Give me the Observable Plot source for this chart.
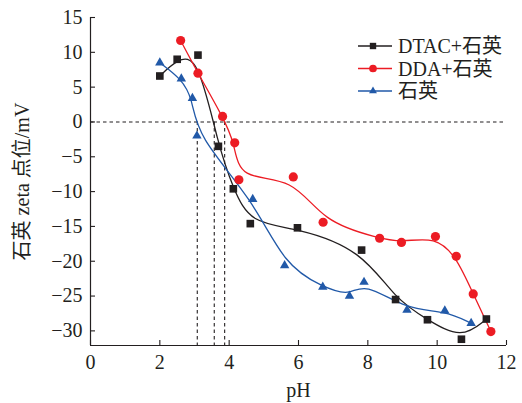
<!DOCTYPE html>
<html><head><meta charset="utf-8">
<script src="https://cdn.jsdelivr.net/npm/d3@7"></script>
<script src="https://cdn.jsdelivr.net/npm/@observablehq/plot@0.6"></script>
<style>body{margin:0;background:#fff}#chart{width:522px;height:403px}</style>
</head><body><div id="chart"></div>
<script>
const seriesNames = ["DTAC+石英", "DDA+石英", "石英"];
const seriesColors = ["#231f20", "#ec1c24", "#2159a8"];
const seriesSymbols = ["square", "circle", "triangle"];

const dtacPH   = [2.0, 2.5, 3.1, 3.69, 4.12, 4.61, 5.97, 7.82, 8.8, 9.72, 10.7, 11.42];
const dtacZeta = [6.6, 9.0, 9.6, -3.5, -9.6, -14.6, -15.2, -18.4, -25.5, -28.4, -31.2, -28.3];

const ddaPH    = [2.6, 3.1, 3.81, 4.16, 4.28, 5.85, 6.71, 8.34, 8.97, 9.95, 10.55, 11.04, 11.55];
const ddaZeta  = [11.7, 7.0, 0.8, -3.0, -8.3, -7.9, -14.4, -16.7, -17.3, -16.45, -19.3, -24.7, -30.1];

const quartzPH   = [2.0, 2.62, 2.94, 3.07, 4.68, 5.6, 6.7, 7.47, 7.89, 9.13, 10.22, 10.98];
const quartzZeta = [8.5, 6.2, 3.4, -2.0, -11.1, -20.6, -23.7, -25.0, -23.0, -27.0, -27.1, -28.9];

const iepPH = [3.08, 3.57, 3.87];   // dashed verticals (isoelectric points)

const xTicks = [0, 2, 4, 6, 8, 10, 12];
const yTicks = [15, 10, 5, 0, -5, -10, -15, -20, -25, -30];
const xDomain = [0, 12];
const yDomain = [-32.1, 15];

const W = 522, H = 403, mL = 90, mR = 16, mT = 17, mB = 58;
const plotW = W - mL - mR, plotH = H - mT - mB;

function rows(name, xs, ys) { return xs.map((x, i) => ({series: name, ph: x, zeta: ys[i]})); }
const dtac = rows(seriesNames[0], dtacPH, dtacZeta);
const dda = rows(seriesNames[1], ddaPH, ddaZeta);
const quartz = rows(seriesNames[2], quartzPH, quartzZeta);
const all = [...dtac, ...dda, ...quartz];

const font = "'Liberation Serif','Noto Sans CJK SC',serif";

const chart = Plot.plot({
  width: W, height: H,
  marginLeft: mL, marginRight: mR, marginTop: mT, marginBottom: mB,
  style: {fontFamily: font, fontSize: "20px", color: "#231f20", background: "#fff"},
  x: {domain: xDomain},
  y: {domain: yDomain},
  color: {domain: seriesNames, range: seriesColors},
  symbol: {domain: seriesNames, range: seriesSymbols},
  marks: [
    Plot.ruleY([0], {stroke: "#231f20", strokeWidth: 1.1, strokeDasharray: "3.5,3"}),
    Plot.ruleX(iepPH, {x: d => d, y1: 0, y2: yDomain[0], stroke: "#231f20", strokeWidth: 1.1, strokeDasharray: "3.5,3"}),
    Plot.line(all, {x: "ph", y: "zeta", z: "series", stroke: "series", curve: "basis", strokeWidth: 1.3}),
    Plot.dot(dtac, {x: "ph", y: "zeta", symbol: "series", fill: "series", r: 4.3}),
    Plot.dot(dda, {x: "ph", y: "zeta", symbol: "series", fill: "series", r: 4.6}),
    Plot.dot(quartz, {x: "ph", y: "zeta", symbol: "series", fill: "series", r: 3.5}),
    Plot.ruleX([xDomain[0]], {stroke: "#231f20", strokeWidth: 1.2}),
    Plot.ruleY([yDomain[0]], {stroke: "#231f20", strokeWidth: 1.2}),
    Plot.ruleX(xTicks, {x: d => d, insetTop: plotH - 5, stroke: "#231f20", strokeWidth: 1.1}),
    Plot.ruleY(yTicks, {y: d => d, insetRight: plotW - 5, stroke: "#231f20", strokeWidth: 1.1}),
    Plot.axisX({ticks: xTicks, tickSize: 0, tickPadding: 9, tickFormat: d => d, label: "pH", labelAnchor: "center", labelArrow: "none", labelOffset: 51, fontSize: 20}),
    Plot.axisY({ticks: yTicks, tickSize: 0, tickPadding: 8, label: "石英 zeta 点位/mV", labelAnchor: "center", labelArrow: "none", labelOffset: 76, fontSize: 20})
  ]
});
document.getElementById("chart").appendChild(chart);

// legend inside the plot, top right
const svg = d3.select(chart);
const lg = svg.append("g").attr("font-family", font).attr("font-size", 20).attr("fill", "#231f20").attr("text-anchor", "start");
const rowY = [46, 68.5, 91];
const symbolMap = {square: d3.symbolSquare, circle: d3.symbolCircle, triangle: d3.symbolTriangle};
const symR = [4.3, 4.6, 3.5];
seriesNames.forEach((name, i) => {
  const y = rowY[i];
  lg.append("line").attr("x1", 358).attr("x2", 392).attr("y1", y).attr("y2", y)
    .attr("stroke", seriesColors[i]).attr("stroke-width", 1.3);
  lg.append("path").attr("transform", `translate(373,${y})`)
    .attr("d", d3.symbol(symbolMap[seriesSymbols[i]], Math.PI * symR[i] * symR[i] * 0.7)())
    .attr("fill", seriesColors[i]);
  lg.append("text").attr("x", 398).attr("y", y).attr("dy", "0.35em").attr("text-anchor", "start").text(name);
});
</script>
</body></html>
